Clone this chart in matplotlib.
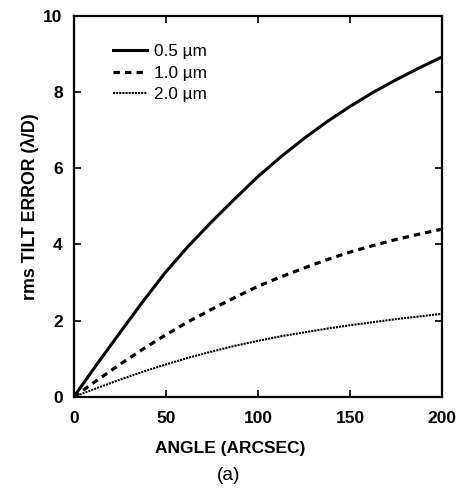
import matplotlib
matplotlib.use("Agg")
import matplotlib.pyplot as plt

plt.rcParams['font.family'] = ['Liberation Sans', 'DejaVu Sans']

# values (angle in arcsec)
angle = [0, 12.5, 25, 37.5, 50, 62.5, 75, 87.5, 100, 112.5, 125,
         137.5, 150, 162.5, 175, 187.5, 200]
tilt_05 = [0, 0.85, 1.68, 2.5, 3.28, 3.97, 4.6, 5.2, 5.78, 6.3, 6.78,
           7.22, 7.62, 7.99, 8.32, 8.63, 8.92]
tilt_10 = [0, 0.43, 0.85, 1.25, 1.63, 1.98, 2.3, 2.61, 2.9, 3.15, 3.38,
           3.6, 3.8, 3.97, 4.13, 4.27, 4.4]
tilt_20 = [0, 0.23, 0.45, 0.66, 0.85, 1.03, 1.19, 1.34, 1.47, 1.59, 1.69,
           1.79, 1.88, 1.96, 2.04, 2.11, 2.18]
labels = ['0.5 \u00b5m', '1.0 \u00b5m', '2.0 \u00b5m']

fig = plt.figure(figsize=(4.61, 4.93), dpi=100)
ax = fig.add_axes([0.160, 0.195, 0.799, 0.773])

ax.plot(angle, tilt_05, color='black', lw=2.2, ls='-', label=labels[0])
ax.plot(angle, tilt_10, color='black', lw=2.3, ls=(0, (2.0, 1.6)), label=labels[1])
ax.plot(angle, tilt_20, color='black', lw=1.5, ls=(0, (1, 0.5)), label=labels[2])

ax.set_xlim(0, 200)
ax.set_ylim(0, 10)
ax.set_xticks([0, 50, 100, 150, 200])
ax.set_yticks([0, 2, 4, 6, 8, 10])
ax.tick_params(direction='in', length=5, width=1.2, top=True, right=True,
               labelsize=12.5, pad=8)
ax.tick_params(axis='x', pad=10)
for lab in ax.get_xticklabels() + ax.get_yticklabels():
    lab.set_fontweight('bold')
for s in ax.spines.values():
    s.set_linewidth(1.6)

ax.set_xlabel('ANGLE (ARCSEC)', fontsize=12.5, fontweight='bold', labelpad=11)
ax.xaxis.label.set_x(0.424)
ax.set_ylabel('rms TILT ERROR (\u03bb/D)', fontsize=12.8, fontweight='bold', labelpad=3)
fig.text(0.497, 0.036, '(a)', fontsize=13.8, ha='center', va='center')

leg = ax.legend(loc='upper left', bbox_to_anchor=(0.075, 0.957), frameon=False,
                fontsize=12.4, handlelength=1.95, handletextpad=0.4, labelspacing=0.36,
                borderaxespad=0.3)

fig.savefig('out.png', dpi=100)
